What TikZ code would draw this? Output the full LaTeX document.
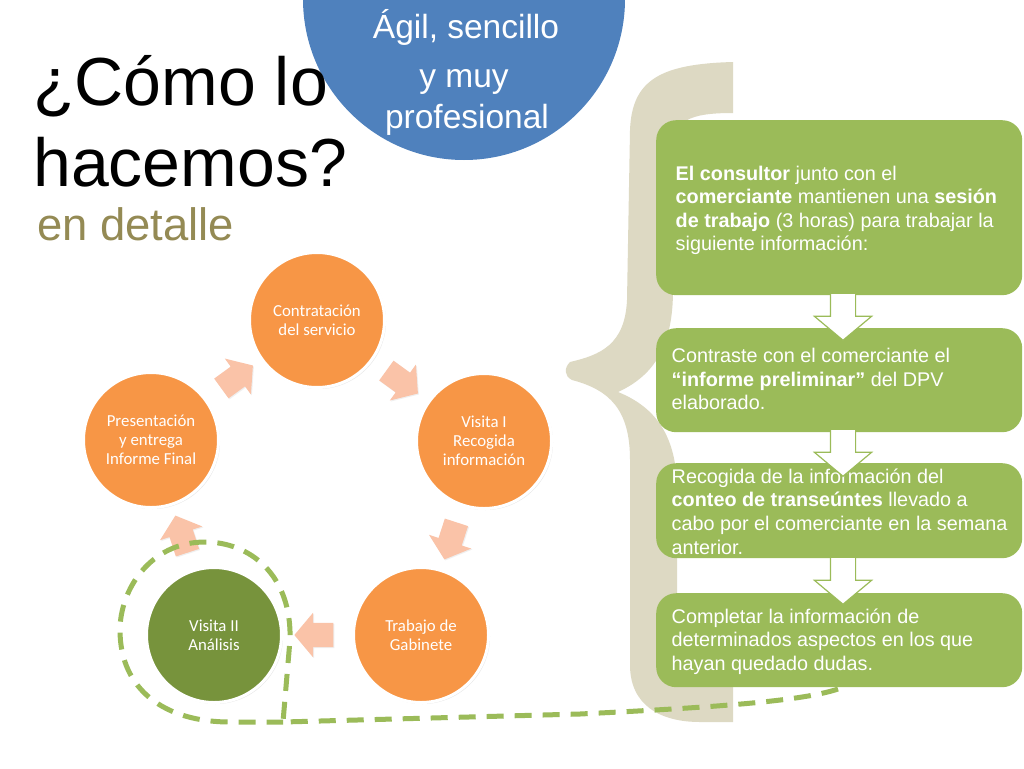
\documentclass[tikz,border=0pt]{standalone}
\usepackage{fontspec}
\setmainfont{Liberation Sans}
\newfontfamily\calfont{Carlito}
\usetikzlibrary{shapes.arrows,shadows}
\definecolor{blueC}{RGB}{79,129,189}
\definecolor{orangeC}{RGB}{247,150,70}
\definecolor{greenDark}{RGB}{119,147,60}
\definecolor{greenBox}{RGB}{155,187,89}
\definecolor{beigeC}{RGB}{221,217,195}
\definecolor{peachC}{RGB}{250,195,168}
\definecolor{oliveC}{RGB}{148,138,84}
\begin{document}
\begin{tikzpicture}[x=1pt,y=-1pt,
  stepcirc/.style={circle, minimum size=135pt, inner sep=0pt, draw=white, line width=3pt,
    fill=orangeC, text=white, font=\calfont\fontsize{16.8}{19}\selectfont, align=center,
    drop shadow={opacity=0.18, shadow xshift=1.5pt, shadow yshift=-1.5pt}},
  peacharrow/.style={single arrow, fill=peachC, draw=none, inner xsep=0pt, inner ysep=12pt,
    minimum height=39pt, single arrow head extend=10pt,
    single arrow tip angle=100,
    drop shadow={opacity=0.12, shadow xshift=1pt, shadow yshift=-1pt}},
  downarrow/.style={single arrow, fill=white, draw=greenBox, line width=1.2pt, inner xsep=0pt, inner ysep=12pt,
    minimum height=47pt, single arrow head extend=16pt,
    single arrow tip angle=100, rotate=-90},
  gbox/.style={fill=greenBox, rounded corners=20pt, inner sep=0pt, anchor=north west, minimum width=366pt},
  boxtext/.style={anchor=base west, inner sep=0pt, text=white, font=\fontsize{19.8}{23.6}\selectfont},
  bluetext/.style={anchor=base, inner sep=0pt, text=white, font=\fontsize{33.5}{40}\selectfont},
  dashline/.style={draw=greenBox, line width=5pt, dash pattern=on 17pt off 11pt}
]
\useasboundingbox (0,0) rectangle (1024,768);
\fill[white] (0,0) rectangle (1024,768);

% blue circle
\node[circle, fill=blueC, minimum size=322pt, inner sep=0pt] (blue) at (464,-1) {};
\node[bluetext] (bl1) at (466,38) {Ágil, sencillo};
\node[bluetext] (bl2) at (464,87) {y muy};
\node[bluetext] (bl3) at (467,128) {profesional};

% title
\node[anchor=base west, inner sep=0pt, font=\fontsize{68}{68}\selectfont] (ti1) at (33,105) {¿Cómo lo};
\node[anchor=base west, inner sep=0pt, font=\fontsize{68}{68}\selectfont] (ti2) at (33,186) {hacemos?};
\node[anchor=base west, inner sep=0pt, text=oliveC, font=\fontsize{45.4}{45}\selectfont] (ti3) at (37,240) {en detalle};

% beige brace
\fill[beigeC] (733,62) .. controls (660,64) and (632,80) .. (630,130)
  -- (627,300) .. controls (625,345) and (600,355) .. (570,362)
  .. controls (564,368) and (564,376) .. (572,380)
  .. controls (610,390) and (630,410) .. (630,460)
  -- (630,665) .. controls (630,705) and (660,722) .. (700,722) -- (733,722)
  -- (733,678) .. controls (690,678) and (677,665) .. (677,630)
  -- (677,490) .. controls (677,430) and (650,405) .. (618,392)
  .. controls (655,375) and (673,345) .. (673,290)
  -- (673,150) .. controls (673,120) and (690,113) .. (733,113) -- cycle;

% green boxes
\node[gbox, minimum height=175pt] (b1) at (656,120) {};
\node[gbox, minimum height=104pt] (b2) at (656,328) {};
\node[gbox, minimum height=95pt] (b3) at (656,463) {};
\node[gbox, minimum height=94pt] (b4) at (656,593) {};

\node[boxtext] (bt1) at (675.5,180) {\begin{tabular}[t]{@{}l@{}}\textbf{El consultor} junto con el\\
  \textbf{comerciante} mantienen una \textbf{sesión}\\
  \textbf{de trabajo} (3 horas) para trabajar la\\
  siguiente información:\end{tabular}};
\node[boxtext] (bt2) at (671.5,362.5) {\begin{tabular}[t]{@{}l@{}}Contraste con el comerciante el\\
  \textbf{“informe preliminar”} del DPV\\
  elaborado.\end{tabular}};
\node[boxtext] (bt3) at (671.5,483.3) {\begin{tabular}[t]{@{}l@{}}Recogida de la información del\\
  \textbf{conteo de transeúntes} llevado a\\
  cabo por el comerciante en la semana\\
  anterior.\end{tabular}};
\node[boxtext] (bt4) at (671.5,623.3) {\begin{tabular}[t]{@{}l@{}}Completar la información de\\
  determinados aspectos en los que\\
  hayan quedado dudas.\end{tabular}};

% white down arrows
\node[downarrow] (d1) at (843,311.5) {};
\node[downarrow] (d2) at (843,447.5) {};
\node[downarrow] (d3) at (843,575.5) {};

% cycle circles
\node[stepcirc] (c1) at (317,320) {Contratación\\del servicio};
\node[stepcirc] (c2) at (484,441) {Visita I\\Recogida\\información};
\node[stepcirc] (c3) at (421,635) {Trabajo de\\Gabinete};
\node[stepcirc, fill=greenDark] (c4) at (214,635) {Visita II\\Análisis};
\node[stepcirc] (c5) at (151,440) {Presentación\\y entrega\\Informe Final};

% peach arrows
\node[peacharrow, rotate=36] (a1) at (233,380) {};
\node[peacharrow, rotate=-36] (a2) at (398,379) {};
\node[peacharrow, rotate=-108] (a3) at (452,536) {};
\node[peacharrow, rotate=180] (a4) at (319,635) {};
\node[peacharrow, rotate=108] (a5) at (183,539) {};

% dashed line
\draw[dashline] (838,689) .. controls (800,702) and (700,708) .. (580,714) -- (283,722)
  -- (290,640) .. controls (292,575) and (250,542) .. (205,542)
  .. controls (150,542) and (120,590) .. (120,630)
  .. controls (120,690) and (165,722) .. (230,722) -- (283,722);
\end{tikzpicture}
\end{document}
